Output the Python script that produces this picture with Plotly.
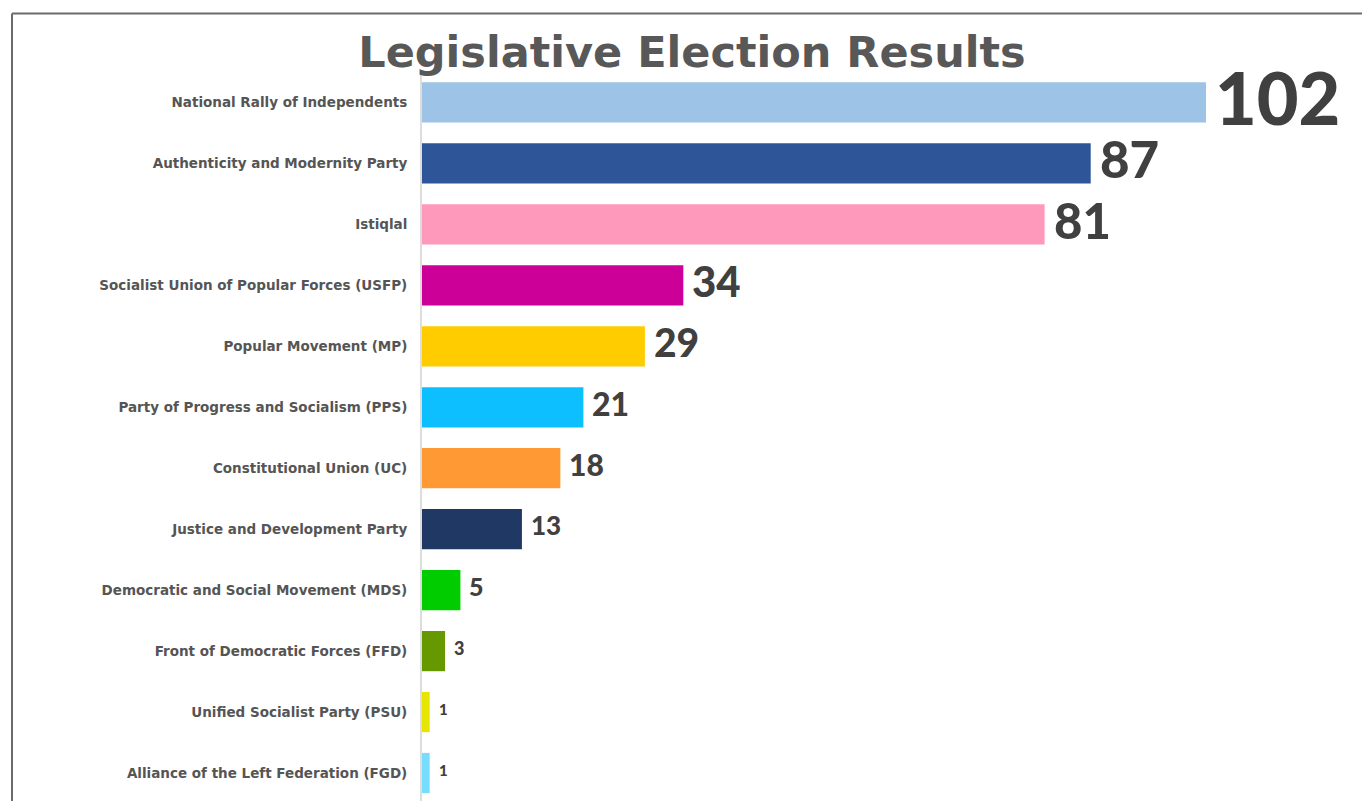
import plotly.graph_objects as go

parties = [
    "National Rally of Independents",
    "Authenticity and Modernity Party",
    "Istiqlal",
    "Socialist Union of Popular Forces (USFP)",
    "Popular Movement (MP)",
    "Party of Progress and Socialism (PPS)",
    "Constitutional Union (UC)",
    "Justice and Development Party",
    "Democratic and Social Movement (MDS)",
    "Front of Democratic Forces (FFD)",
    "Unified Socialist Party (PSU)",
    "Alliance of the Left Federation (FGD)",
]
seats = [102, 87, 81, 34, 29, 21, 18, 13, 5, 3, 1, 1]

colors = ["#9DC3E6", "#2E5597", "#FF99BB", "#CC0099", "#FFCC00", "#0DBFFF",
          "#FF9933", "#1F3864", "#00CC00", "#669900", "#E6E600", "#77DDFF"]
label_sizes = [72, 51, 49, 42, 39, 32, 30, 26, 25, 18, 15, 15]

W, H = 1362, 801
L, T, B, R = 422, 71.5, 0, 0
pw = W - L - R
ph = H - T - B
px_per_unit = (1206 - 422) / 102.0
x_max = pw / px_per_unit
spacing = 61.0
y_bottom = -0.5 + ph / spacing

fig = go.Figure()
fig.add_trace(go.Bar(
    x=seats, y=list(range(len(parties))), orientation="h",
    marker=dict(color=colors, line=dict(width=0)),
    width=0.66, hoverinfo="skip",
))

for i, (v, s) in enumerate(zip(seats, label_sizes)):
    fig.add_annotation(
        x=v, y=i, xref="x", yref="y", text=str(v), showarrow=False,
        xanchor="left", yanchor="middle", xshift=7, yshift=3 + s * 0.03,
        font=dict(family="Lato", size=s, color="#404040", weight=900),
    )

bx = (12 - L) / pw
by = (H - 13) / ph
fig.add_shape(type="line", xref="paper", yref="paper", x0=bx, x1=bx, y0=-0.05, y1=by,
              line=dict(color="#6b6b6b", width=2))
fig.add_shape(type="line", xref="paper", yref="paper", x0=bx, x1=1.05, y0=by, y1=by,
              line=dict(color="#6b6b6b", width=2))

fig.update_layout(
    width=W, height=H,
    margin=dict(l=L, r=R, t=T, b=B, autoexpand=False),
    paper_bgcolor="white", plot_bgcolor="white",
    showlegend=False,
    title=dict(text="Legislative Election Results", x=692 / W, xref="container",
               xanchor="center", y=1 - 52 / H, yref="container", yanchor="middle",
               font=dict(family="DejaVu Sans", size=43, color="#585858", weight="bold")),
    xaxis=dict(range=[0, x_max], showgrid=False, zeroline=False, showticklabels=False,
               showline=False, ticks=""),
    yaxis=dict(range=[y_bottom, -0.5], tickmode="array", tickvals=list(range(len(parties))),
               ticktext=parties, showgrid=False, zeroline=False,
               showline=True, linecolor="#dddddd", linewidth=2,
               ticks="", ticklabelstandoff=10,
               tickfont=dict(family="DejaVu Sans", size=13.5, color="#555555", weight="bold")),
)

fig.write_html("out.html")
